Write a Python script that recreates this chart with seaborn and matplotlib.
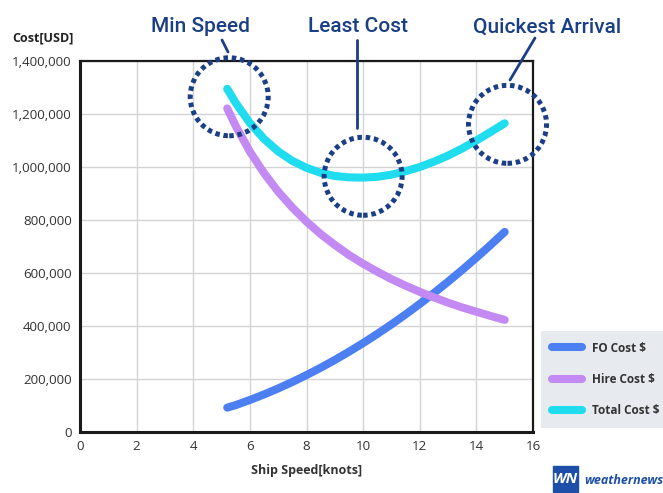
import numpy as np
import pandas as pd
import matplotlib
matplotlib.use("Agg")
import matplotlib.pyplot as plt
import seaborn as sns
from matplotlib.patches import Ellipse, Rectangle
from matplotlib.lines import Line2D
from matplotlib.ticker import FuncFormatter

# values
speed = [5.2, 5.5, 6, 6.5, 7, 7.5, 8, 8.5, 9, 9.5, 10, 10.5, 11, 11.5, 12, 12.5, 13, 13.5, 14, 14.5, 15]
fo_cost = [92000, 101500, 120800, 141800, 164400, 188800, 214800, 242500, 271800, 302900, 335600,
           370000, 406000, 443800, 483300, 524400, 567200, 611600, 657800, 705600, 755100]
hire_cost = [1221000, 1155000, 1058000, 977000, 907000, 847000, 794000, 747000, 706000, 668000, 635000,
             605000, 577000, 552000, 529000, 508000, 488000, 470000, 454000, 438000, 423000]
total_cost = [1295000, 1242000, 1166000, 1106000, 1059000, 1023000, 997000, 978000, 966000, 961000, 960000,
              963000, 971000, 984000, 1000000, 1020000, 1043000, 1070000, 1100000, 1132000, 1165000]
series_names = ["FO Cost $", "Hire Cost $", "Total Cost $"]
colors = ["#4b7ff2", "#c48af3", "#1fdcef"]
x_ticks = [0, 2, 4, 6, 8, 10, 12, 14, 16]
y_ticks = [0, 200000, 400000, 600000, 800000, 1000000, 1200000, 1400000]

df = pd.concat([
    pd.DataFrame({"speed": speed, "cost": fo_cost, "series": series_names[0]}),
    pd.DataFrame({"speed": speed, "cost": hire_cost, "series": series_names[1]}),
    pd.DataFrame({"speed": speed, "cost": total_cost, "series": series_names[2]}),
])

sns.set_style("white")
plt.rcParams["font.family"] = ["Open Sans", "DejaVu Sans"]

W, H = 663, 493
fig = plt.figure(figsize=(W / 100, H / 100), dpi=100)
ax = fig.add_axes([80 / W, 1 - 432 / H, 453 / W, 371 / H])

sns.lineplot(data=df, x="speed", y="cost", hue="series", palette=colors, linewidth=5.8,
             solid_capstyle="round", ax=ax, legend=False, zorder=3)

ax.set_xlim(0, 16)
ax.set_ylim(0, 1400000)
ax.set_xticks(x_ticks)
ax.set_yticks(y_ticks)
ax.yaxis.set_major_formatter(FuncFormatter(lambda v, p: f"{int(v):,}"))
ax.grid(True, color="#d4d4d4", linewidth=1)
ax.set_axisbelow(True)
ax.tick_params(length=0, labelsize=9.6, colors="#333333", pad=6)
for s in ax.spines.values():
    s.set_color("#1a1a1a")
    s.set_linewidth(1.6)
ax.spines["left"].set_linewidth(2.2)
ax.spines["bottom"].set_linewidth(2.2)
ax.set_xlabel("Ship Speed[knots]", fontsize=9, fontweight="bold", color="#333333", labelpad=8)
ax.set_ylabel("")
fig.text(12 / W, 1 - 38 / H, "Cost[USD]", fontsize=9, fontweight="bold", color="#222222", va="center")

# dotted circles round the marked points
navy = "#1b3f86"
px_x = 453 / 16
px_y = 371 / 1400000
imin = int(np.argmin(total_cost))
marks = [(speed[0] + 0.07, total_cost[0] - 30000), (speed[imin], total_cost[imin] + 5000),
         (speed[-1] + 0.1, total_cost[-1] - 4000)]
for cx, cy in marks:
    ax.add_patch(Ellipse((cx, cy), 2 * 39 / px_x, 2 * 39 / px_y, fill=False, edgecolor=navy,
                         linewidth=3.6, linestyle=(0, (0.9, 0.75)), clip_on=False, zorder=5))

def fx(x):
    return x / W

def fy(y):
    return 1 - y / H

for (x0, y0, x1, y1) in [(222, 40, 228, 52), (357, 40, 357, 128), (535, 38, 510, 80)]:
    fig.add_artist(Line2D([fx(x0), fx(x1)], [fy(y0), fy(y1)], color=navy, linewidth=2))

for label, x in [("Min Speed", 201), ("Least Cost", 358), ("Quickest Arrival", 547)]:
    fig.text(fx(x), fy(27), label, fontsize=15, color=navy, ha="center", va="center",
             fontweight="medium", family=["Roboto", "DejaVu Sans"])

# legend box
handles = [Line2D([0], [0], color=c, linewidth=5.8, solid_capstyle="round") for c in colors]
leg = fig.legend(handles, series_names, loc="upper left", bbox_to_anchor=(fx(541), fy(331)),
                 frameon=True, fancybox=False, facecolor="#e7ebef", edgecolor="none", framealpha=1,
                 fontsize=8.5, handlelength=2.6, labelspacing=1.55, borderpad=0.9, handletextpad=0.8,
                 borderaxespad=0)
for t in leg.get_texts():
    t.set_fontweight("bold")
    t.set_color("#333333")

# logo
fig.add_artist(Rectangle((fx(553), fy(492)), 25 / W, 26 / H, color="#1e4fa8", transform=fig.transFigure))
fig.text(fx(565), fy(479), "WN", fontsize=11, fontweight="bold", style="italic", color="white",
         ha="center", va="center")
fig.text(fx(584), fy(481), "weathernews", fontsize=9, fontweight="bold", style="italic", color="#1e4fa8",
         va="center")

fig.savefig("out.png", dpi=100)
